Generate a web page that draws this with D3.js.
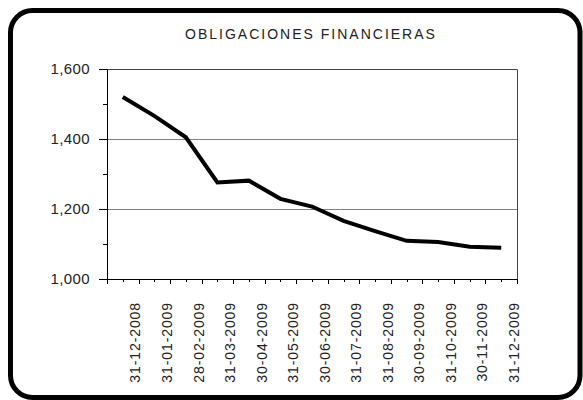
<!DOCTYPE html>
<html>
<head>
<meta charset="utf-8">
<script src="https://cdn.jsdelivr.net/npm/d3@7"></script>
<style>
  body { margin: 0; background: #fff; }
  text { font-family: Arial, "Liberation Sans", sans-serif; fill: #222; }
</style>
</head>
<body>
<div id="chart"></div>
<script>
// data
var dates = ["31-12-2008", "31-01-2009", "28-02-2009", "31-03-2009", "30-04-2009",
             "31-05-2009", "30-06-2009", "31-07-2009", "31-08-2009", "30-09-2009",
             "31-10-2009", "30-11-2009", "31-12-2009"];
var values = [1520, 1466, 1405, 1276, 1281, 1229, 1207, 1166, 1137, 1109, 1106, 1092, 1089];
var yTicks = [1000, 1200, 1400, 1600];
var yMinor = [1100, 1300, 1500];
var title = "OBLIGACIONES FINANCIERAS";

var W = 583, H = 400;
var margin = {top: 69, right: 66, bottom: 121, left: 107},
    width = W - margin.left - margin.right,
    height = H - margin.top - margin.bottom;

var root = d3.select("#chart").append("svg")
    .attr("width", W)
    .attr("height", H);

// rounded outer frame
root.append("rect")
  .attr("x", 10.5).attr("y", 10.5)
  .attr("width", 569.5).attr("height", 387)
  .attr("rx", 22).attr("ry", 22)
  .attr("fill", "#fff")
  .attr("stroke", "#000")
  .attr("stroke-width", 5);

root.append("text")
  .attr("x", 311).attr("y", 39)
  .attr("text-anchor", "middle")
  .style("font-size", "14px")
  .style("letter-spacing", "2px")
  .text(title);

var svg = root.append("g")
  .attr("transform", "translate(" + margin.left + "," + margin.top + ")");

var x = d3.scaleBand()
  .domain(dates)
  .range([0, width]);

var y = d3.scaleLinear()
  .domain([1000, 1600])
  .range([height, 0]);

// gridlines
svg.append("g")
  .selectAll("line")
  .data(yTicks.slice(1, 3))
  .enter().append("line")
    .attr("x1", 0).attr("x2", width)
    .attr("y1", function(d) { return Math.round(y(d)) + 0.5; })
    .attr("y2", function(d) { return Math.round(y(d)) + 0.5; })
    .attr("stroke", "#808080");

// plot frame top and right
svg.append("path")
  .attr("d", "M0,0.5H" + (width + 0.5) + "V" + height)
  .attr("fill", "none")
  .attr("stroke", "#444");

// y axis
var yAxis = svg.append("g")
  .call(d3.axisLeft(y).tickValues(yTicks).tickSize(8).tickPadding(9)
        .tickFormat(d3.format(",")));
yAxis.select(".domain").attr("stroke", "#000");
yAxis.selectAll("text")
  .style("font-size", "15px")
  .style("letter-spacing", "0.4px")
  .attr("fill", "#222");

svg.append("g")
  .selectAll("line")
  .data(yMinor)
  .enter().append("line")
    .attr("x1", -4).attr("x2", 0)
    .attr("y1", function(d) { return Math.round(y(d)) + 0.5; })
    .attr("y2", function(d) { return Math.round(y(d)) + 0.5; })
    .attr("stroke", "#000");

// x axis: major ticks at band edges, minor at band centres
svg.append("line")
  .attr("x1", 0).attr("x2", width + 0.5)
  .attr("y1", height + 0.5).attr("y2", height + 0.5)
  .attr("stroke", "#000");

var edges = [0].concat(dates.map(function(d) { return x(d) + x.bandwidth(); }));
svg.append("g")
  .selectAll("line")
  .data(edges)
  .enter().append("line")
    .attr("x1", function(d) { return Math.round(d) + 0.5; })
    .attr("x2", function(d) { return Math.round(d) + 0.5; })
    .attr("y1", height).attr("y2", height + 5)
    .attr("stroke", "#000");

svg.append("g")
  .selectAll("line")
  .data(dates)
  .enter().append("line")
    .attr("x1", function(d) { return Math.round(x(d) + x.bandwidth() / 2) + 0.5; })
    .attr("x2", function(d) { return Math.round(x(d) + x.bandwidth() / 2) + 0.5; })
    .attr("y1", height).attr("y2", height + 3)
    .attr("stroke", "#000");

svg.append("g")
  .selectAll("text")
  .data(dates)
  .enter().append("text")
    .attr("transform", function(d) {
      return "translate(" + (x(d) + x.bandwidth() - 3) + "," + (height + 23) + ")rotate(-90)";
    })
    .attr("text-anchor", "end")
    .attr("dy", "0.35em")
    .style("font-size", "14px")
    .style("letter-spacing", "0.9px")
    .text(function(d) { return d; });

// the series line
var line = d3.line()
  .x(function(d, i) { return x(dates[i]) + x.bandwidth() / 2; })
  .y(function(d) { return y(d); });

svg.append("path")
  .datum(values)
  .attr("d", line)
  .attr("fill", "none")
  .attr("stroke", "#000")
  .attr("stroke-width", 4)
  .attr("stroke-linejoin", "miter");
</script>
</body>
</html>
